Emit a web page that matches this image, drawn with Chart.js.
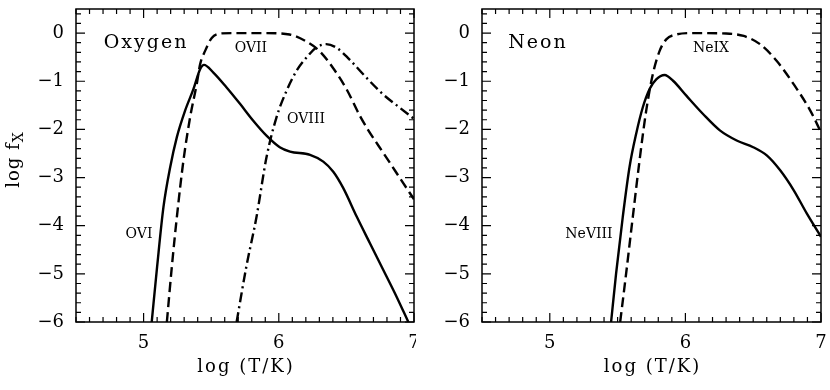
<!DOCTYPE html>
<html>
<head>
<meta charset="utf-8">
<script src="https://cdn.jsdelivr.net/npm/chart.js@4"></script>
<style>
  html, body { margin: 0; padding: 0; background: #fff; }
  #wrap { position: relative; width: 830px; height: 390px; }
  .panel { position: absolute; top: 0; height: 390px; }
  #left { left: 0; width: 416px; }
  #right { left: 414px; width: 416px; }
</style>
</head>
<body>
<div id="wrap">
  <div class="panel" id="left"><canvas id="oxygen"></canvas></div>
  <div class="panel" id="right"><canvas id="neon"></canvas></div>
</div>
<script>
// log T and log f values
const oviT = [5.06, 5.10, 5.147, 5.197, 5.246, 5.307, 5.369, 5.418, 5.447, 5.516, 5.614, 5.713, 5.811, 5.909, 6.007, 6.083, 6.231, 6.329, 6.403, 6.477, 6.576, 6.675, 6.773, 6.872, 6.958];
const oviF = [-6, -4.85, -3.61, -2.78, -2.16, -1.61, -1.16, -0.75, -0.66, -0.82, -1.13, -1.47, -1.82, -2.13, -2.37, -2.46, -2.53, -2.67, -2.88, -3.22, -3.81, -4.37, -4.92, -5.48, -6];

const oviiT = [5.172, 5.209, 5.246, 5.295, 5.344, 5.393, 5.418, 5.455, 5.504, 5.565, 5.66, 5.91, 6.08, 6.20, 6.30, 6.40, 6.50, 6.60, 6.66, 6.74, 6.823, 6.90, 7.0];
const oviiF = [-6, -4.85, -3.82, -2.64, -1.75, -1.06, -0.65, -0.37, -0.10, -0.01, 0, 0, -0.03, -0.17, -0.37, -0.72, -1.16, -1.72, -2.01, -2.35, -2.70, -3.03, -3.45];

const oviiiT = [5.688, 5.76, 5.835, 5.909, 5.983, 6.057, 6.13, 6.204, 6.278, 6.35, 6.425, 6.52, 6.646, 6.77, 6.89, 7.0];
const oviiiF = [-6, -4.85, -3.82, -2.58, -1.75, -1.20, -0.79, -0.51, -0.30, -0.23, -0.30, -0.54, -0.92, -1.27, -1.54, -1.78];

const neviiiT = [5.452, 5.489, 5.538, 5.588, 5.637, 5.686, 5.736, 5.785, 5.847, 5.909, 6.007, 6.13, 6.254, 6.378, 6.5, 6.6, 6.699, 6.798, 6.896, 7.0];
const neviiiF = [-6, -4.99, -3.82, -2.78, -2.09, -1.54, -1.16, -0.96, -0.87, -0.99, -1.30, -1.68, -2.02, -2.23, -2.37, -2.54, -2.85, -3.26, -3.75, -4.23];

const neixT = [5.519, 5.563, 5.612, 5.662, 5.711, 5.76, 5.81, 5.859, 5.933, 6.057, 6.3, 6.43, 6.55, 6.674, 6.798, 6.921, 7.0];
const neixF = [-6, -4.99, -3.82, -2.64, -1.61, -0.85, -0.37, -0.13, -0.03, 0, -0.01, -0.06, -0.23, -0.58, -1.06, -1.61, -2.06];

const xTicks = [5, 6, 7];
const yTicks = [-6, -5, -4, -3, -2, -1, 0];

const FONT = "'DejaVu Serif', 'Liberation Serif', serif";

function pts(xs, ys) {
    return xs.map((x, i) => ({ x: x, y: ys[i] }));
}

function fmt(v) {
    return v < 0 ? '\u2212' + Math.abs(v) : String(v);
}

// box with inward ticks on all four sides, plus text labels
const framePlugin = {
    id: 'frame',
    afterDraw(chart, args, opts) {
        const ctx = chart.ctx;
        const a = chart.chartArea;
        const xs = chart.scales.x, ys = chart.scales.y;
        ctx.save();
        ctx.strokeStyle = '#000';
        ctx.lineWidth = 1.5;
        ctx.strokeRect(a.left, a.top, a.right - a.left, a.bottom - a.top);
        ctx.lineWidth = 1.2;
        ctx.beginPath();
        for (let i = 45; i <= 70; i++) {
            const px = xs.getPixelForValue(i / 10);
            const len = i % 10 === 0 ? 9 : 5;
            ctx.moveTo(px, a.bottom); ctx.lineTo(px, a.bottom - len);
            ctx.moveTo(px, a.top); ctx.lineTo(px, a.top + len);
        }
        for (let i = -30; i <= 2; i++) {
            const py = ys.getPixelForValue(i / 5);
            const len = i % 5 === 0 ? 9 : 5;
            ctx.moveTo(a.left, py); ctx.lineTo(a.left + len, py);
            ctx.moveTo(a.right, py); ctx.lineTo(a.right - len, py);
        }
        ctx.stroke();

        ctx.fillStyle = '#000';
        ctx.textAlign = 'center';
        ctx.textBaseline = 'middle';
        (opts.labels || []).forEach(l => {
            ctx.font = l.size + 'px ' + FONT;
            ctx.letterSpacing = (l.spacing || 0) + 'px';
            ctx.fillText(l.text, xs.getPixelForValue(l.x), ys.getPixelForValue(l.y));
        });

        // x axis title
        ctx.font = '18px ' + FONT;
        ctx.letterSpacing = '2px';
        ctx.fillText('log (T/K)', (a.left + a.right) / 2 + 1, 367);
        ctx.letterSpacing = '0px';

        if (opts.yTitle) {
            ctx.translate(14, (a.top + a.bottom) / 2 - 6);
            ctx.rotate(-Math.PI / 2);
            ctx.font = '18px ' + FONT;
            ctx.textAlign = 'left';
            ctx.letterSpacing = '1px';
            const w1 = ctx.measureText('log f').width;
            ctx.font = '14px ' + FONT;
            const w2 = ctx.measureText('X').width;
            const start = -(w1 + w2) / 2;
            ctx.font = '18px ' + FONT;
            ctx.fillText('log f', start, 0);
            ctx.font = '14px ' + FONT;
            ctx.fillText('X', start + w1, 5);
            ctx.letterSpacing = '0px';
        }
        ctx.restore();
    }
};

function makeChart(id, datasets, labels, yAxisWidth, padRight, yTitle) {
    return new Chart(document.getElementById(id), {
        type: 'line',
        data: { datasets: datasets },
        options: {
            responsive: true,
            maintainAspectRatio: false,
            animation: false,
            layout: { padding: { left: 0, right: padRight, top: 9, bottom: 0 } },
            plugins: {
                legend: { display: false },
                tooltip: { enabled: false },
                frame: { labels: labels, yTitle: yTitle }
            },
            elements: { point: { radius: 0 } },
            scales: {
                x: {
                    type: 'linear',
                    min: 4.5,
                    max: 7,
                    grid: { display: false, drawTicks: false },
                    border: { display: false },
                    afterBuildTicks: s => { s.ticks = xTicks.map(v => ({ value: v })); },
                    afterFit: s => { s.height = 68; s.paddingLeft = 0; s.paddingRight = 0; },
                    ticks: {
                        padding: 11,
                        color: '#000',
                        maxRotation: 0,
                        autoSkip: false,
                        font: { family: FONT, size: 18 },
                        callback: v => fmt(v)
                    }
                },
                y: {
                    type: 'linear',
                    min: -6,
                    max: 0.5,
                    grid: { display: false, drawTicks: false },
                    border: { display: false },
                    afterBuildTicks: s => { s.ticks = yTicks.map(v => ({ value: v })); },
                    afterFit: s => { s.width = yAxisWidth; s.paddingTop = 0; s.paddingBottom = 0; },
                    ticks: {
                        padding: 12,
                        color: '#000',
                        autoSkip: false,
                        font: { family: FONT, size: 18 },
                        callback: v => fmt(v)
                    }
                }
            }
        },
        plugins: [framePlugin]
    });
}

function line(data, dash) {
    return {
        data: data,
        borderColor: '#000',
        borderWidth: 2.4,
        borderDash: dash,
        cubicInterpolationMode: 'monotone',
        fill: false
    };
}

makeChart('oxygen', [
    line(pts(oviT, oviF), []),
    line(pts(oviiT, oviiF), [10, 5]),
    line(pts(oviiiT, oviiiF), [10, 4, 2, 4])
], [
    { text: 'Oxygen', x: 5.018, y: -0.2, size: 19, spacing: 2 },
    { text: 'OVII', x: 5.794, y: -0.31, size: 14 },
    { text: 'OVIII', x: 6.201, y: -1.785, size: 14 },
    { text: 'OVI', x: 4.966, y: -4.19, size: 14 }
], 76, 2, true);

makeChart('neon', [
    line(pts(neviiiT, neviiiF), []),
    line(pts(neixT, neixF), [10, 5])
], [
    { text: 'Neon', x: 4.913, y: -0.2, size: 19, spacing: 2 },
    { text: 'NeIX', x: 6.189, y: -0.31, size: 14 },
    { text: 'NeVIII', x: 5.289, y: -4.19, size: 14 }
], 68, 9, false);
</script>
</body>
</html>
